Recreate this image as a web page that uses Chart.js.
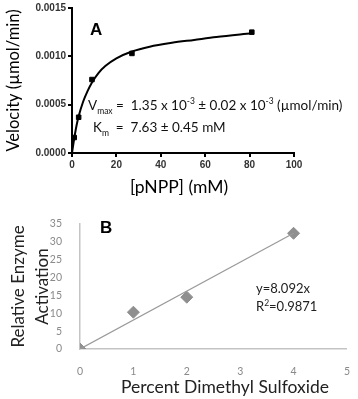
<!DOCTYPE html>
<html>
<head>
<meta charset="utf-8">
<script src="https://cdn.jsdelivr.net/npm/chart.js@4"></script>
<style>
  body { margin: 0; background: #fff; }
  #wrapA { position: absolute; left: 0; top: 0; width: 358px; height: 200px; }
  #wrapB { position: absolute; left: 0; top: 200px; width: 358px; height: 199px; }
</style>
</head>
<body>
<div id="wrapA"><canvas id="chartA"></canvas></div>
<div id="wrapB"><canvas id="chartB"></canvas></div>
<script>
// ======================== Panel A data (pNPP kinetics) ========================
const pnppConc = [1, 3, 9, 27, 81];
const velocity = [0.00016, 0.00037, 0.00076, 0.00103, 0.00125];
// fitted curve
const fitConc = [0, 1, 2, 3, 5, 7, 9, 12, 15, 20, 27, 35, 45, 55, 65, 81];
const fitVelocity = [0, 0.00015, 0.00028, 0.00038, 0.00053, 0.00064, 0.00073, 0.00083,
                     0.00090, 0.00098, 0.00105, 0.00110, 0.00114, 0.00117, 0.00120, 0.00124];
const ticksAx = [0, 20, 40, 60, 80, 100];
const ticksAy = [0, 0.0005, 0.0010, 0.0015];

// ======================== Panel B data (DMSO activation) ========================
const dmsoPercent = [0, 1, 2, 4];
const activation = [0, 10.3, 14.5, 32.4];
const trendX = [0, 4];
const trendY = [0, 32.4];
const ticksBx = [0, 1, 2, 3, 4, 5];
const ticksBy = [0, 5, 10, 15, 20, 25, 30, 35];

const SANS = "Lato, 'Open Sans', sans-serif";
const ARIAL = "Arial, 'Liberation Sans', sans-serif";

function toPoints(xs, ys) {
    return xs.map((x, i) => ({ x: x, y: ys[i] }));
}

// draws a row of text runs (for sub/superscripts)
function drawRuns(ctx, x, y, runs, color) {
    ctx.save();
    ctx.textAlign = 'left';
    ctx.textBaseline = 'alphabetic';
    ctx.fillStyle = color;
    for (const r of runs) {
        ctx.font = (r.bold ? 'bold ' : '') + r.size + 'px ' + (r.family || SANS);
        ctx.fillText(r.t, x, y + (r.dy || 0));
        x += ctx.measureText(r.t).width;
    }
    ctx.restore();
}

function drawCentered(ctx, text, x, y, size, color) {
    ctx.save();
    ctx.font = size + 'px ' + SANS;
    ctx.fillStyle = color;
    ctx.textAlign = 'center';
    ctx.textBaseline = 'middle';
    ctx.fillText(text, x, y);
    ctx.restore();
}

const labelsA = {
    id: 'labelsA',
    afterDraw(chart) {
        const ctx = chart.ctx;
        drawRuns(ctx, 90, 35, [{ t: 'A', size: 17, bold: true, family: ARIAL }], '#000');
        drawRuns(ctx, 88, 110, [
            { t: 'V', size: 13.5 }, { t: 'max', size: 8.5, dy: 4 },
            { t: ' =  1.35 x 10', size: 13.5 }, { t: '-3', size: 8.5, dy: -6 },
            { t: ' \u00b1 0.02 x 10', size: 13.5 }, { t: '-3', size: 8.5, dy: -6 },
            { t: ' (\u00b5mol/min)', size: 13.5 }
        ], '#111');
        drawRuns(ctx, 93, 132, [
            { t: 'K', size: 13.5 }, { t: 'm', size: 8.5, dy: 4 },
            { t: '  =  7.63 \u00b1 0.45 mM', size: 13.5 }
        ], '#111');
        drawCentered(ctx, '[pNPP] (mM)', 179, 187, 17.5, '#000');
    }
};

const labelsB = {
    id: 'labelsB',
    afterDraw(chart) {
        const ctx = chart.ctx;
        drawRuns(ctx, 100, 33, [{ t: 'B', size: 17, bold: true, family: ARIAL }], '#000');
        drawRuns(ctx, 256, 93, [{ t: 'y=8.092x', size: 13 }], '#222');
        drawRuns(ctx, 256, 111, [
            { t: 'R', size: 13 }, { t: '2', size: 8.5, dy: -5 }, { t: '=0.9871', size: 13 }
        ], '#222');
        drawCentered(ctx, 'Percent Dimethyl Sulfoxide', 225, 187, 17.5, '#222');
    }
};

// ======================== Panel A chart ========================
new Chart(document.getElementById('chartA'), {
    type: 'scatter',
    data: {
        datasets: [
            {
                data: toPoints(fitConc, fitVelocity),
                showLine: true,
                borderColor: '#000',
                borderWidth: 2,
                pointRadius: 0,
                cubicInterpolationMode: 'monotone',
                fill: false
            },
            {
                data: toPoints(pnppConc, velocity),
                pointStyle: 'rect',
                pointRadius: 3.2,
                backgroundColor: '#000',
                borderColor: '#000'
            }
        ]
    },
    options: {
        responsive: true,
        maintainAspectRatio: false,
        animation: false,
        layout: { padding: { top: 8, right: 64, left: 0, bottom: 0 } },
        plugins: { legend: { display: false }, tooltip: { enabled: false } },
        scales: {
            x: {
                type: 'linear', min: 0, max: 100,
                afterBuildTicks: s => { s.ticks = ticksAx.map(v => ({ value: v })); },
                afterFit: s => { s.height = 47; },
                ticks: { font: { family: ARIAL, size: 10, weight: 'bold' }, color: '#333', padding: 2, maxRotation: 0 },
                grid: { display: true, drawOnChartArea: false, color: '#000', lineWidth: 2, tickLength: 4 },
                border: { color: '#000', width: 2 }
            },
            y: {
                type: 'linear', min: 0, max: 0.0015,
                afterBuildTicks: s => { s.ticks = ticksAy.map(v => ({ value: v })); },
                afterFit: s => { s.width = 72; },
                ticks: { font: { family: ARIAL, size: 10, weight: 'bold' }, color: '#333', padding: 2, callback: v => v.toFixed(4) },
                grid: { display: true, drawOnChartArea: false, color: '#000', lineWidth: 2, tickLength: 4 },
                border: { color: '#000', width: 2 },
                title: { display: true, text: 'Velocity (\u00b5mol/min)', font: { family: SANS, size: 16.5 }, color: '#000', padding: { top: 4, bottom: 0 } }
            }
        }
    },
    plugins: [labelsA]
});

// ======================== Panel B chart ========================
new Chart(document.getElementById('chartB'), {
    type: 'scatter',
    data: {
        datasets: [
            {
                data: toPoints(trendX, trendY),
                showLine: true,
                borderColor: '#9a9a9a',
                borderWidth: 1.2,
                pointRadius: 0,
                fill: false
            },
            {
                data: toPoints(dmsoPercent, activation),
                pointStyle: 'rectRot',
                pointRadius: 6,
                backgroundColor: '#8f8f8f',
                borderColor: '#8f8f8f'
            }
        ]
    },
    options: {
        responsive: true,
        maintainAspectRatio: false,
        animation: false,
        layout: { padding: { top: 24, right: 5, left: 0, bottom: 0 } },
        plugins: { legend: { display: false }, tooltip: { enabled: false } },
        scales: {
            x: {
                type: 'linear', min: 0, max: 5,
                afterBuildTicks: s => { s.ticks = ticksBx.map(v => ({ value: v })); },
                afterFit: s => { s.height = 50; },
                ticks: { font: { family: SANS, size: 10.5 }, color: '#8a8a8a', padding: 8, maxRotation: 0 },
                grid: { display: false },
                border: { color: '#c4c4c4', width: 1.5 }
            },
            y: {
                type: 'linear', min: 0, max: 35,
                afterBuildTicks: s => { s.ticks = ticksBy.map(v => ({ value: v })); },
                afterFit: s => { s.width = 80; },
                ticks: { font: { family: SANS, size: 10.5 }, color: '#8a8a8a', padding: 10 },
                grid: { display: false },
                border: { color: '#c4c4c4', width: 1.5 },
                title: { display: true, text: ['Relative Enzyme', 'Activation'], font: { family: SANS, size: 17, lineHeight: 1.4 }, color: '#222', padding: { top: 7, bottom: 0 } }
            }
        }
    },
    plugins: [labelsB]
});
</script>
</body>
</html>
